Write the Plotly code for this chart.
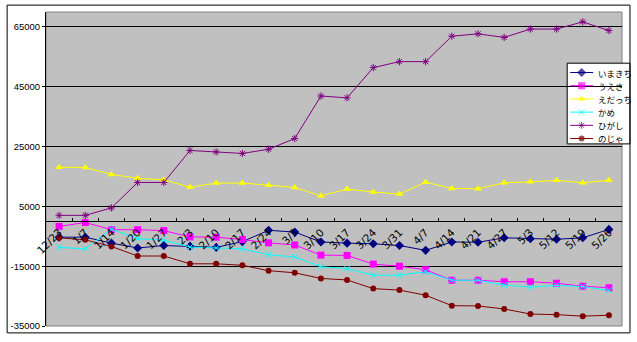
import plotly.graph_objects as go

# Weekly record dates (category axis)
dates = ["12/23", "1/7", "1/14", "1/20", "1/27", "2/3", "2/10", "2/17", "2/24",
         "3/3", "3/10", "3/17", "3/24", "3/31", "4/7", "4/14", "4/21", "4/27",
         "5/3", "5/12", "5/19", "5/26"]

# Running balances per player
imakichi = [-5300, -5300, -7300, -8900, -8100, -8300, -8700, -6800, -3000, -3600, -6900,
            -7300, -7500, -8100, -9700, -6900, -7000, -5500, -5800, -6000, -5500, -2700]
uesa = [-1700, -400, -2800, -2800, -3100, -5200, -5300, -6100, -7200, -7900, -11300,
        -11400, -14300, -15000, -16200, -19700, -19700, -20200, -20200, -20700, -21700, -22200]
edacchi = [18100, 18000, 15700, 14400, 13900, 11400, 12800, 12800, 12100, 11300, 8500,
           10800, 9800, 9100, 13100, 11000, 10900, 12900, 13200, 13700, 12900, 13700]
kame = [-8700, -9200, -2600, -5800, -6300, -8600, -8900, -9200, -11200, -11900, -15200,
        -15800, -18000, -18000, -16900, -19700, -19700, -21300, -22000, -21400, -21800, -23100]
higashi = [2000, 2000, 4500, 13000, 13000, 23700, 23200, 22700, 24100, 27700, 41900,
           41300, 51400, 53400, 53400, 61900, 62700, 61500, 64300, 64300, 66700, 63800]
noja = [-5500, -6200, -8400, -11600, -11600, -14200, -14200, -14700, -16500, -17200, -19100,
        -19600, -22500, -23000, -24700, -28200, -28300, -29300, -31000, -31200, -31700, -31400]

names = ["いまきち", "うえさ", "えだっち", "かめ", "ひがし", "のじゃ"]
series = [imakichi, uesa, edacchi, kame, higashi, noja]
colors = ["#000080", "#FF00FF", "#FFFF00", "#00FFFF", "#800080", "#800000"]
symbols = ["diamond", "square", "triangle-up", "x-thin-open", "asterisk-open", "circle"]
sizes = [7, 7, 7, 6, 6, 6]

y_min, y_max = -35000, 70000
W, H = 637, 342
ML, MR, MT, MB = 44, 15, 12, 11
PW, PH = W - ML - MR, H - MT - MB


def px_x(px):
    return (px - ML) / PW


def px_y(py):
    return (H - MB - py) / PH


def marker_for(i, size):
    open_sym = symbols[i].endswith("-open")
    return dict(symbol=symbols[i], size=size, color=colors[i],
                line=dict(color=colors[i], width=1 if open_sym else 0))


fig = go.Figure()

for i, (name, vals) in enumerate(zip(names, series)):
    fig.add_trace(go.Scatter(
        x=dates, y=vals, name=name, mode="lines+markers",
        line=dict(color=colors[i], width=1),
        marker=marker_for(i, sizes[i]),
        showlegend=False,
    ))

# Legend samples drawn on an overlay axis pair spanning the plot area
lx0, lx1, lxm = px_x(570), px_x(593), px_x(581.5)
for i, name in enumerate(names):
    yy = px_y(73.5 + 13.4 * i)
    fig.add_trace(go.Scatter(
        x=[lx0, lxm, lx1], y=[yy, yy, yy], mode="lines+markers",
        line=dict(color=colors[i], width=1),
        marker=dict(symbol=symbols[i], size=[0, sizes[i], 0], color=colors[i],
                    line=dict(color=colors[i],
                              width=1 if symbols[i].endswith("-open") else 0)),
        xaxis="x2", yaxis="y2", showlegend=False, hoverinfo="skip",
        cliponaxis=False,
    ))
    fig.add_annotation(
        x=px_x(596), y=yy, xref="paper", yref="paper", text=name,
        showarrow=False, xanchor="left", yanchor="middle",
        font=dict(family="Noto Sans CJK JP", size=8.5, color="black"),
    )

shapes = [
    # plot-area frame
    dict(type="rect", xref="paper", yref="paper", x0=0, x1=1, y0=0, y1=1,
         line=dict(color="#808080", width=1), layer="below"),
    # chart-area border
    dict(type="rect", xref="paper", yref="paper",
         x0=px_x(5), x1=px_x(630), y0=px_y(338), y1=px_y(5),
         line=dict(color="black", width=1), layer="above"),
    # legend box: over the gridlines, under the traces
    dict(type="rect", xref="paper", yref="paper",
         x0=px_x(567), x1=px_x(630), y0=px_y(146), y1=px_y(64),
         fillcolor="white", line=dict(color="black", width=1), layer="between"),
]

fig.update_layout(
    width=W, height=H,
    margin=dict(l=ML, r=MR, t=MT, b=MB),
    paper_bgcolor="white",
    plot_bgcolor="#C0C0C0",
    font=dict(family="Liberation Sans", size=10, color="black"),
    shapes=shapes,
    xaxis=dict(
        type="category", range=[-0.5, len(dates) - 0.5],
        anchor="free", position=(0 - y_min) / (y_max - y_min),
        showline=True, linecolor="black", linewidth=1,
        showgrid=False, zeroline=False,
        ticks="inside", ticklen=3, tickcolor="black", tickson="boundaries",
        tickangle=-45, tickfont=dict(family="DejaVu Sans", size=10.5, color="black"),
    ),
    yaxis=dict(
        range=[y_min, y_max], tickvals=[-35000, -15000, 5000, 25000, 45000, 65000],
        ticktext=["-35000", "-15000", "5000", "25000", "45000", "65000"],
        showline=True, linecolor="black", linewidth=1,
        showgrid=True, gridcolor="black", gridwidth=1, zeroline=False,
        ticks="outside", ticklen=3, tickcolor="black",
        tickfont=dict(family="Liberation Sans", size=9.5, color="black"),
    ),
    xaxis2=dict(range=[0, 1], overlaying="x", anchor="y2", visible=False),
    yaxis2=dict(range=[0, 1], overlaying="y", anchor="x2", visible=False),
)

fig.write_html("out.html")
